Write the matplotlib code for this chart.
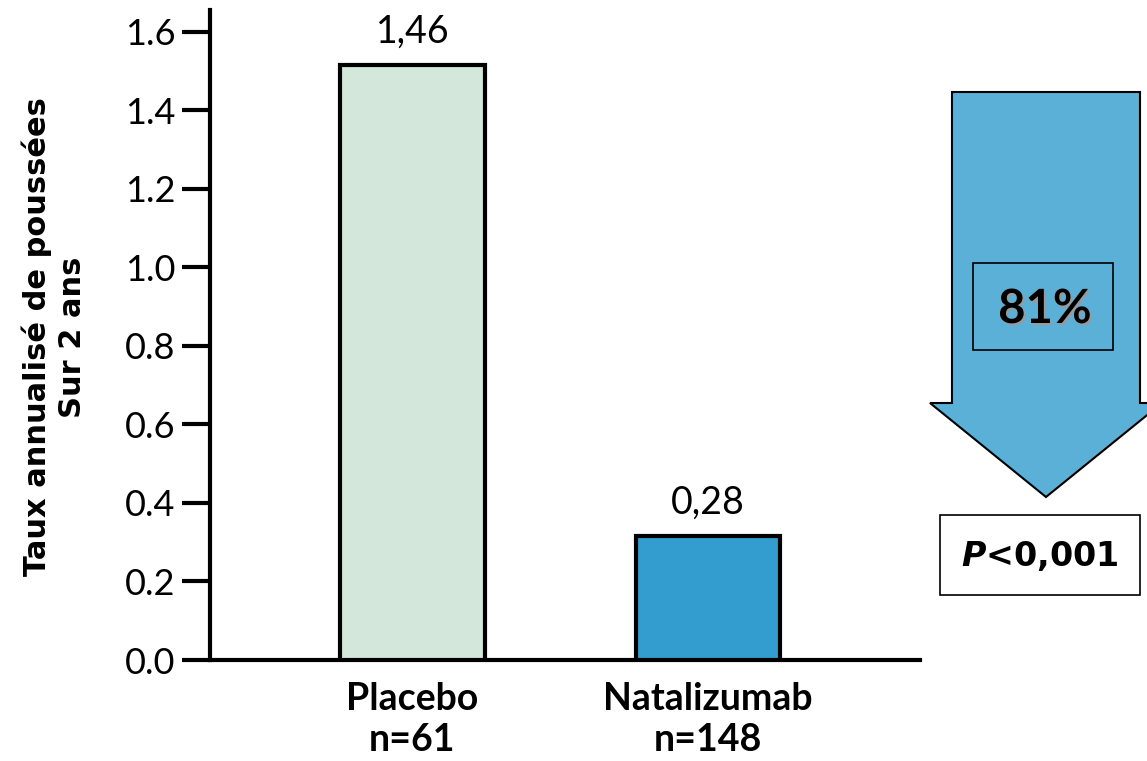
import matplotlib
matplotlib.use("Agg")
import matplotlib.pyplot as plt
import matplotlib.patheffects as pe
from matplotlib.patches import Polygon, Rectangle
import numpy as np

# données
groupes = ['Placebo\nn=61', 'Natalizumab\nn=148']
hauteurs = [1.515, 0.315]
etiquettes = ['1,46', '0,28']
couleurs = ['#D3E8DA', '#339DCF']
yticks = [0.0, 0.2, 0.4, 0.6, 0.8, 1.0, 1.2, 1.4, 1.6]
reduction = '81%'
pval = '<0,001'

W, H = 1147, 761
fig = plt.figure(figsize=(W / 100, H / 100), dpi=100)
ax = fig.add_axes([210 / W, 101 / H, 710 / W, 650 / H])

x = np.arange(len(groupes))
ax.bar(x, hauteurs, width=0.49, color=couleurs, edgecolor='black', linewidth=3, zorder=3)
for xi, h, t in zip(x, hauteurs, etiquettes):
    ax.text(xi, h + 0.04, t, ha='center', va='bottom', fontsize=27, family='Lato')

ax.set_xlim(-0.685, 1.717)
ax.set_ylim(0, 1.656)
ax.set_yticks(yticks)
ax.set_yticklabels(['%.1f' % v for v in yticks], fontsize=26, family='Lato')
ax.set_xticks(x)
ax.set_xticklabels(groupes, fontsize=27, fontweight='bold', linespacing=1.25, family='Lato')
ax.tick_params(axis='y', length=20, width=3, direction='out', pad=5)
ax.tick_params(axis='x', length=0, pad=16)
for s in ['top', 'right']:
    ax.spines[s].set_visible(False)
ax.spines['left'].set_linewidth(3)
ax.spines['bottom'].set_linewidth(3)

fig.text(54 / W, 1 - 337 / H, 'Taux annualisé de poussées\nSur 2 ans', rotation=90,
         ha='center', va='center', fontsize=22, fontweight='bold', linespacing=1.25)

# flèche à droite (coordonnées en pixels de la figure)
px = lambda a, b: (a / W, 1 - b / H)
fleche = [px(952, 92), px(1140, 92), px(1140, 403), px(1162, 403), px(1046, 497),
          px(930, 403), px(952, 403)]
fig.patches.append(Polygon(fleche, closed=True, facecolor='#5BB0D7', edgecolor='black',
                           linewidth=1.5, transform=fig.transFigure, figure=fig))
fig.patches.append(Rectangle(px(973, 350), 140 / W, 87 / H, facecolor='none',
                             edgecolor='black', linewidth=1.2, transform=fig.transFigure, figure=fig))
fig.text(1045 / W, 1 - 309 / H, reduction, ha='center', va='center', fontsize=34,
         fontweight='bold', color='black', family='Lato',
         path_effects=[pe.withSimplePatchShadow(offset=(1.5, -1.5), shadow_rgbFace='#9a9a9a', alpha=1)])
fig.patches.append(Rectangle(px(940, 595), 200 / W, 80 / H, facecolor='white',
                             edgecolor='black', linewidth=1.2, transform=fig.transFigure, figure=fig))
fig.text(1040 / W, 1 - 556 / H, r'$\bfit{P}$' + pval, ha='center', va='center', fontsize=24,
         fontweight='bold')

fig.savefig('out.png', dpi=100)
